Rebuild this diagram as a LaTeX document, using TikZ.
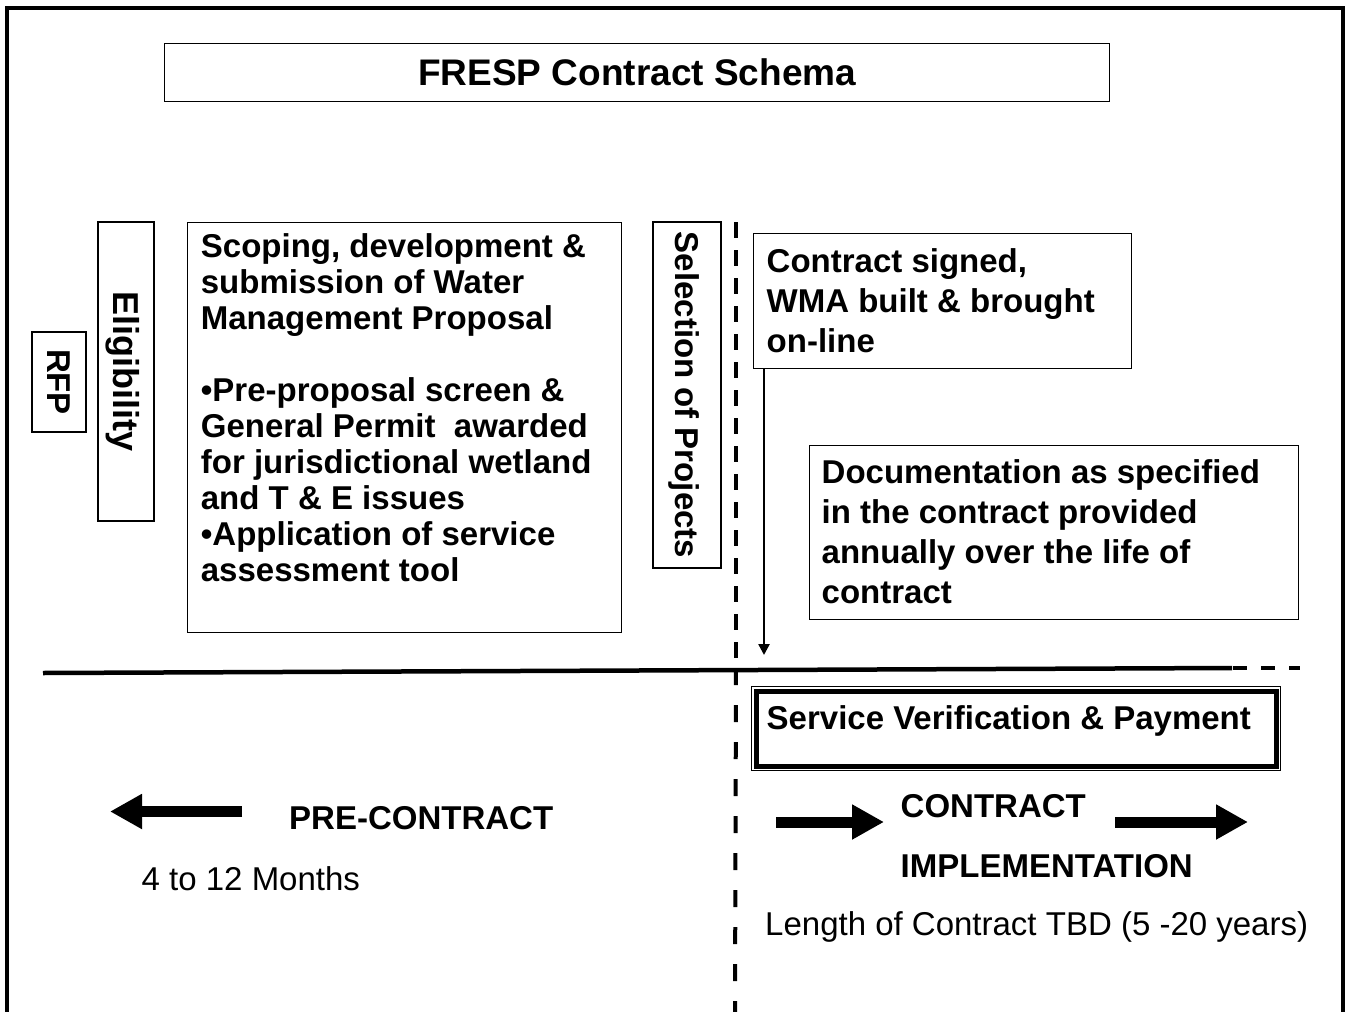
\documentclass[tikz,border=0pt]{standalone}
\usepackage{fontspec}
\setmainfont{Liberation Sans}
\usetikzlibrary{arrows.meta}
\begin{document}
\begin{tikzpicture}[x=1pt,y=-1pt,
  box/.style={draw, line width=1.3pt, inner sep=0pt, anchor=north west},
  vbox/.style={draw, line width=1.3pt, inner sep=0pt, anchor=center, rotate=-90},
  body/.style={font=\bfseries\fontsize{33}{36}\selectfont, inner sep=0pt},
  wide/.style={font=\bfseries\fontsize{33}{40}\selectfont, inner sep=0pt},
  plain/.style={font=\fontsize{33}{36}\selectfont, inner sep=0pt},
  capline/.style={text height=23.6pt, text depth=0pt},
  bigcap/.style={font=\bfseries\fontsize{36}{40}\selectfont, text height=25.8pt, text depth=0pt},
  titlecap/.style={font=\bfseries\fontsize{37}{40}\selectfont, text height=26.5pt, text depth=0pt},
  bigarrow/.style={line width=11pt, -{Triangle[length=32pt,width=33pt]}},
  divider/.style={line width=4.5pt},
]
\useasboundingbox (0,0) rectangle (1345,1012);

% outer frame, open at the bottom
\draw[line width=4pt, line join=miter] (7,1016) -- (7,8) -- (1343,8) -- (1343,1016);

% title
\node[box, titlecap, minimum width=945pt, minimum height=58pt] (title) at (164,43) {FRESP Contract Schema};

% pre-contract stages
\node[vbox, body, capline, minimum width=100pt, minimum height=54pt] (rfp) at (59,382) {RFP};
\node[vbox, bigcap, minimum width=299pt, minimum height=56pt] (elig) at (126,371.5) {Eligibility};

\node[box, minimum width=434pt, minimum height=410pt] (scope) at (187,222) {};
\node[body, anchor=base west] (scopetext) at (200.7,257.6) {\vtop{%
  \hbox{Scoping, development \&}
  \hbox{submission of Water}
  \hbox{Management Proposal}
  \vskip36pt
  \hbox{•Pre-proposal screen \&}
  \hbox{General Permit \ awarded}
  \hbox{for jurisdictional wetland}
  \hbox{and T \& E issues}
  \hbox{•Application of service}
  \hbox{assessment tool}}};

\node[vbox, body, capline, minimum width=346pt, minimum height=68pt] (select) at (687,395) {Selection of Projects};

% contract stages
\node[box, minimum width=378pt, minimum height=135pt] (contract) at (753,233) {};
\node[wide, anchor=base west] (contracttext) at (766.5,272.6) {\vtop{%
  \hbox{Contract signed,}
  \hbox{WMA built \& brought}
  \hbox{on-line}}};

\node[box, minimum width=489pt, minimum height=174pt] (docs) at (809,445) {};
\node[wide, anchor=base west] (docstext) at (821.5,483.6) {\vtop{%
  \hbox{Documentation as specified}
  \hbox{in the contract provided}
  \hbox{annually over the life of}
  \hbox{contract}}};

\coordinate (dropend) at (764,655);
\draw[line width=2.5pt, -{Triangle[length=11pt,width=11pt]}] (contract.south west -| dropend) -- (dropend);

% phase dividers
\coordinate (hleft) at (43,673);
\coordinate (hright) at (1232,668);
\coordinate (hdash) at (1233,668);
\coordinate (hend) at (1300,668);
\draw[divider] (hleft) -- (hright);
\draw[divider, dash pattern=on 14pt off 14pt] (hdash) -- (hend);

\coordinate (vtop) at (736,222);
\coordinate (vmid) at (736,668);
\coordinate (vbot) at (735,1014);
\draw[divider, line width=4pt, dash pattern=on 16pt off 12pt] (vtop) -- (vmid);
\draw[divider, line width=4pt, dash pattern=on 17pt off 20pt] (vmid) -- (vbot);

% verification box with double border
\node[box, line width=1pt, minimum width=529pt, minimum height=84pt] (svouter) at (751,686) {};
\node[draw, line width=5pt, inner sep=0pt, minimum width=520pt, minimum height=75pt] (svinner) at (svouter.center) {};
\node[body, capline, anchor=west] (svtext) at (766.5,718) {Service Verification \& Payment};

% phase labels
\coordinate (preA) at (242,811.5);
\coordinate (preB) at (110,811.5);
\draw[bigarrow] (preA) -- (preB);
\node[body, capline, anchor=west] (pre) at (289,818) {PRE-CONTRACT};
\node[plain, capline, anchor=west] (premonths) at (141.5,879) {4 to 12 Months};

\coordinate (impA) at (776,822);
\coordinate (impB) at (884,822);
\coordinate (impC) at (1115,822);
\coordinate (impD) at (1248,822);
\draw[bigarrow] (impA) -- (impB);
\draw[bigarrow] (impC) -- (impD);
\node[body, capline, anchor=west] (impl1) at (900.5,806) {CONTRACT};
\node[body, capline, anchor=west] (impl2) at (900.5,866) {IMPLEMENTATION};
\node[plain, capline, anchor=west] (impyears) at (765,924) {Length of Contract TBD (5 -20 years)};
\end{tikzpicture}
\end{document}
